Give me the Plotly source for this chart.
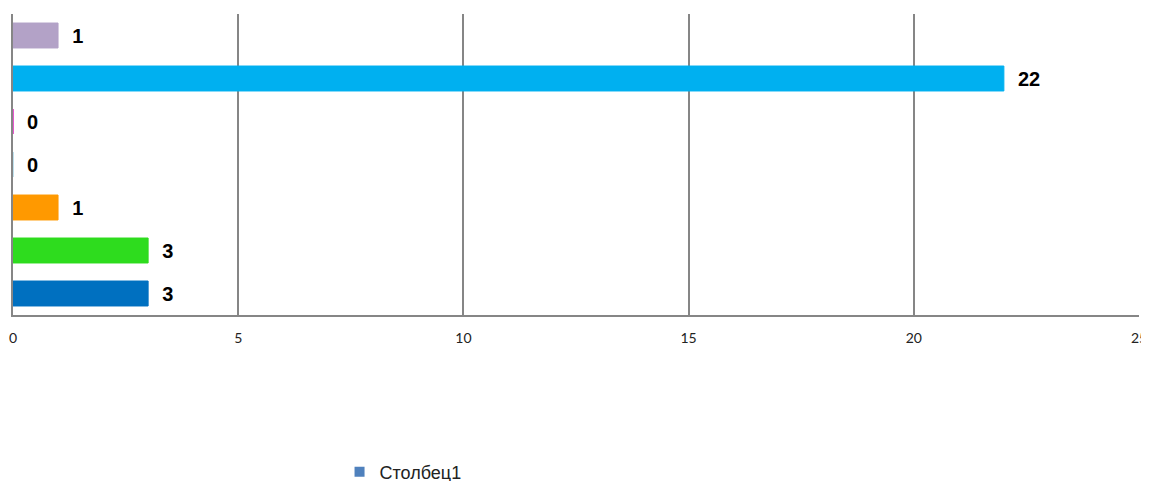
import plotly.graph_objects as go

categories = ["Кат1", "Кат2", "Кат3", "Кат4", "Кат5", "Кат6", "Кат7"]
values = [3, 3, 1, 0, 0, 22, 1]
colors = ["#0070C0", "#2EDC1E", "#FF9900", "#A9D8E8", "#E020C0", "#00B0F0", "#B3A2C7"]
labels = [f"  {v}" for v in values]
tick_vals = [0, 5, 10, 15, 20, 25]
series_name = "Столбец1"

fig = go.Figure()
fig.add_trace(go.Bar(
    y=categories, x=values, orientation="h",
    marker=dict(color=colors, line=dict(color=colors, width=1)),
    text=labels, textposition="outside", cliponaxis=False,
    textfont=dict(family="Liberation Sans, Arial", size=20, color="black", weight="bold"),
    showlegend=False,
))
fig.add_trace(go.Scatter(
    x=[None], y=[None], mode="markers", name=series_name,
    marker=dict(symbol="square", size=10, color="#4F81BD"),
))
fig.update_layout(
    width=1141, height=473,
    margin=dict(l=5, r=10, t=6, b=166),
    plot_bgcolor="white", paper_bgcolor="white",
    bargap=0.42,
    xaxis=dict(range=[0, 25], tickvals=tick_vals, showgrid=True, gridcolor="#868686", gridwidth=2,
               showline=True, linecolor="#868686", linewidth=2, zeroline=False, automargin=False,
               ticks="outside", ticklen=9, tickcolor="rgba(0,0,0,0)", ticklabeloverflow="allow",
               tickfont=dict(family="Lato, Carlito, sans-serif", size=14, color="#222")),
    yaxis=dict(showticklabels=False, showgrid=False, showline=True, linecolor="#868686", linewidth=2,
               zeroline=False, automargin=False),
    legend=dict(x=0.29, y=0.019, yref="container", xanchor="left", yanchor="middle", itemwidth=30,
                font=dict(family="Liberation Sans, Arial", size=18, color="#222")),
    showlegend=True,
)
fig.write_html("out.html", post_script="document.body.style.overflow='hidden';")
